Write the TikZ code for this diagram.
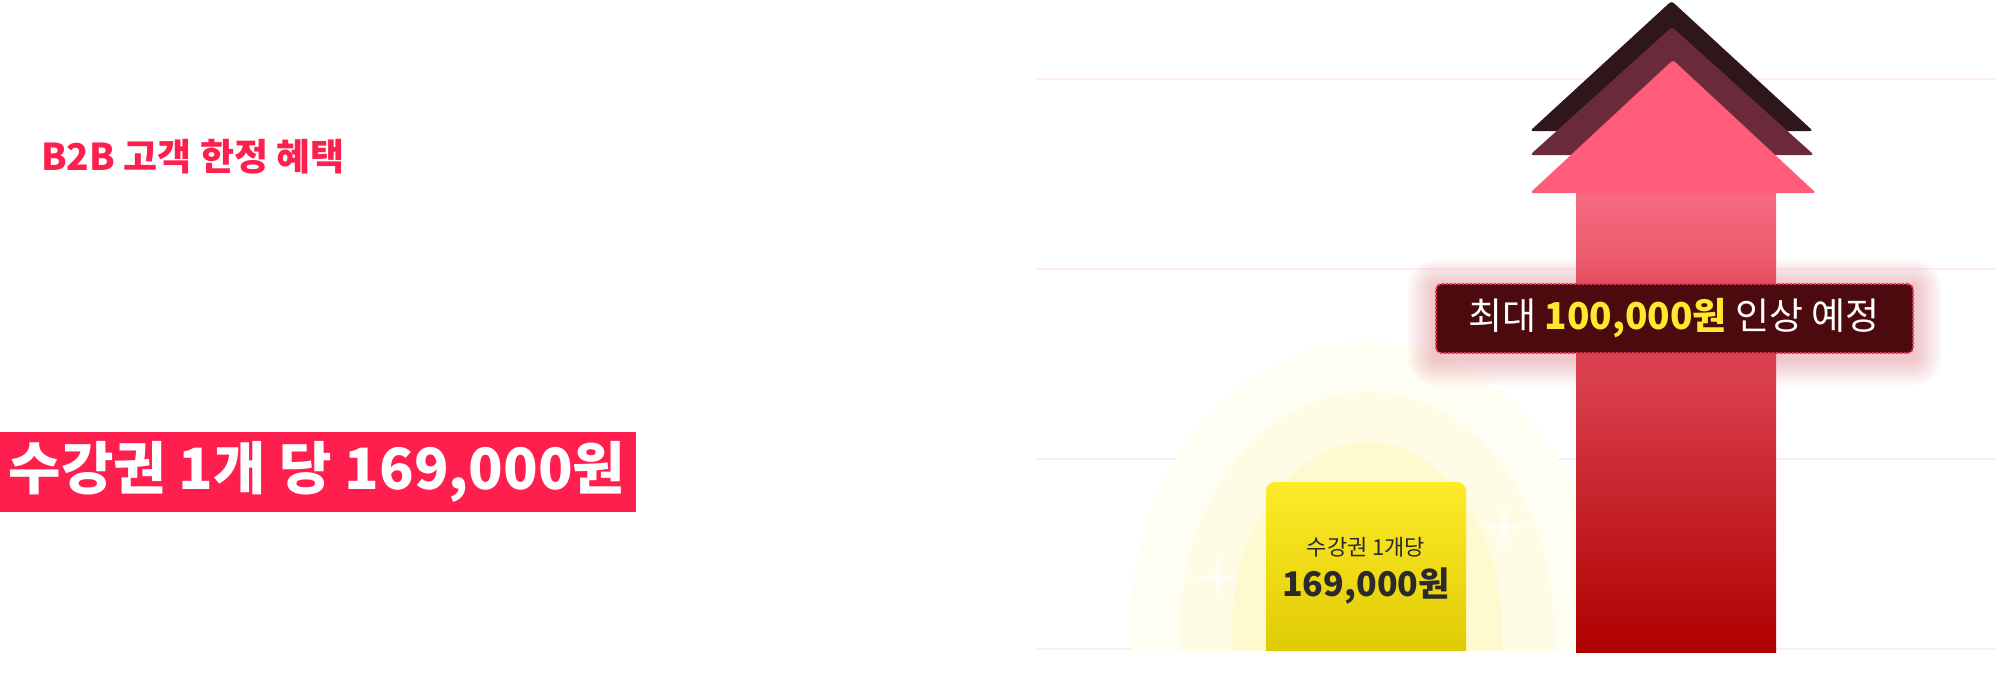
\documentclass[tikz,border=0pt]{standalone}
\usepackage{fontspec}
\setmainfont{Noto Sans CJK KR}
\definecolor{brand}{HTML}{FF1F4E}
\definecolor{gridc}{HTML}{FFECEF}
\definecolor{darkarrow}{HTML}{2F161B}
\definecolor{midarrow}{HTML}{6B2A3A}
\definecolor{pinkarrow}{HTML}{FF5C7A}
\definecolor{shafttop}{HTML}{F76B81}
\definecolor{shaftbot}{HTML}{AF0000}
\definecolor{labelfill}{HTML}{4B0A0D}
\definecolor{labelborder}{HTML}{F0304C}
\definecolor{goldtext}{HTML}{FFE930}
\definecolor{yelltop}{HTML}{FFEA28}
\definecolor{yellbot}{HTML}{DCC800}
\definecolor{inktext}{HTML}{2A2A2A}
\definecolor{glowA}{HTML}{FFFEF3}
\definecolor{glowB}{HTML}{FFFCE6}
\definecolor{glowC}{HTML}{FFF9CF}
\definecolor{shadowc}{HTML}{D84050}
\tikzset{
  gridline/.style={draw=gridc, line width=1.5pt},
  tri/.style={rounded corners=3pt},
  sparkle/.style={fill=white, opacity=0.95},
}
\begin{document}
\begin{tikzpicture}[x=1pt,y=-1pt]
\useasboundingbox (0,0) rectangle (1996,696);
\fill[white] (0,0) rectangle (1996,696);
% grid lines
\foreach \yy in {79,269,459,649}
  \draw[gridline] (1036,\yy) -- (1996,\yy);
% glow
\begin{scope}
  \clip (1100,300) rectangle (1576,650);
  \fill[glowA] (1367,630) ellipse [x radius=237, y radius=288];
  \fill[glowB] (1367,630) ellipse [x radius=187, y radius=238];
  \fill[glowC] (1367,630) ellipse [x radius=135, y radius=188];
\end{scope}
% yellow box (rounded top corners only)
\begin{scope}
  \clip (1260,470) rectangle (1472,650);
  \shade[top color=yelltop, bottom color=yellbot, rounded corners=9pt]
    (1266,482) rectangle (1466,670);
\end{scope}
\node[font=\fontsize{22}{26}\selectfont, text=inktext] (ylab) at (1366,547) {수강권 1개당};
\node[font=\fontsize{34}{38}\selectfont\bfseries, text=inktext] (yval) at (1366,586) {169,000원};
% sparkles
\foreach \sx/\sy in {1504/527,1218/578}{
  \fill[sparkle] (\sx-22,\sy) -- (\sx-2,\sy-2) -- (\sx,\sy-24) -- (\sx+2,\sy-2) -- (\sx+22,\sy) -- (\sx+2,\sy+2) -- (\sx,\sy+24) -- (\sx-2,\sy+2) -- cycle;
  \fill[white, opacity=0.6] (\sx,\sy) circle (5);
}
% arrow
\shade[top color=shafttop, bottom color=shaftbot] (1576,190) rectangle (1776,652);
\fill[darkarrow, tri] (1530,131) -- (1671.5,1) -- (1813,131) -- cycle;
\fill[midarrow, tri] (1530,155) -- (1672,27) -- (1814,155) -- cycle;
\fill[pinkarrow, tri] (1530,193) -- (1673,60) -- (1816,193) -- cycle;
% label glow (soft)
\foreach \g in {28,25,22,19,16,13,10,7,4}
  \fill[shadowc, opacity=0.035, rounded corners=\g pt] (1436-\g,284-\g+4) rectangle (1913+\g,353+\g+4);
\node[draw=labelborder, fill=labelfill, dashed, dash pattern=on 2.5pt off 1.5pt, line width=1.6pt,
      rounded corners=5pt, minimum width=477pt, minimum height=69pt, inner sep=0pt] (lbl) at (1674.5,318.5) {};
\node[font=\fontsize{37}{42}\selectfont, text=white, inner sep=0pt] (lbltext) at (1674,318.5)
  {최대 {\bfseries\color{goldtext}100,000원} 인상 예정};
% left texts
\node[anchor=west, font=\fontsize{37}{42}\selectfont\bfseries, text=brand, inner sep=0pt] (title) at (41,157) {B2B 고객 한정 혜택};
\fill[brand] (0,432) rectangle (636,512);
\node[font=\fontsize{57}{64}\selectfont\bfseries, text=white, inner sep=0pt] (banner) at (317,472) {수강권 1개 당 169,000원};
\end{tikzpicture}
\end{document}
